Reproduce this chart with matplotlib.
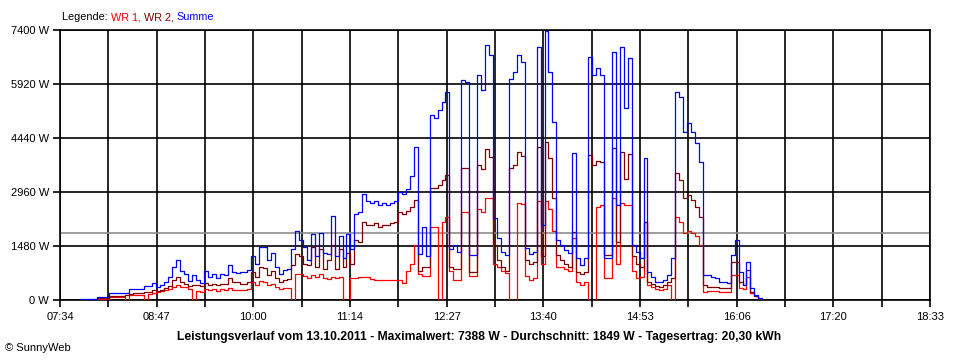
import matplotlib
matplotlib.use("Agg")
import matplotlib.pyplot as plt
import numpy as np

# ---- data (W), one sample every 3 minutes starting 07:50 ----
start_min = 7 * 60 + 50
step_min = 3

summe = [20, 20, 30, 30, 90, 90, 90, 180, 200, 200,
         200, 200, 290, 290, 290, 290, 380, 380, 470, 360,
         400, 500, 620, 900, 1100, 800, 720, 520, 680, 560,
         460, 800, 620, 700, 600, 720, 680, 950, 760, 740,
         780, 760, 820, 1200, 1000, 1450, 1450, 1100, 1300, 900,
         700, 820, 850, 1400, 1900, 1650, 1450, 1100, 1800, 1200,
         1850, 1300, 1250, 2300, 1200, 1750, 1150, 1800, 1400, 2350,
         2400, 2900, 2700, 2650, 2700, 2600, 2650, 2600, 2650, 2700,
         2950, 2900, 3050, 3400, 4200, 1250, 2000, 1200, 5070, 4980,
         5200, 5440, 5710, 1400, 1500, 1320, 6030, 5980, 1230, 1230,
         6170, 5750, 6990, 6710, 2240, 1690, 1320, 1230, 6070, 6260,
         6710, 6530, 1420, 1250, 1320, 6940, 2060, 7370, 6260, 4890,
         1640, 1500, 1370, 1280, 4020, 1140, 960, 1140, 6670, 6170,
         6350, 6170, 1140, 1140, 6800, 2600, 6940, 5250, 6620, 1500,
         1320, 1140, 3900, 780, 640, 500, 480, 550, 690, 1140,
         5710, 5570, 4610, 4840, 4610, 4290, 3790, 690, 690, 640,
         590, 500, 500, 460, 1230, 1640, 780, 410, 1050, 320,
         140, 50, 0]

wr2 = [0, 0, 0, 20, 50, 50, 60, 110, 120, 120,
       120, 130, 170, 180, 180, 180, 220, 230, 270, 260,
       280, 320, 380, 560, 640, 500, 440, 380, 420, 400,
       380, 470, 420, 440, 420, 450, 430, 590, 500, 480,
       450, 450, 500, 760, 620, 900, 880, 680, 800, 600,
       500, 540, 580, 950, 1250, 1200, 1000, 950, 1450, 900,
       1400, 850, 1100, 1500, 850, 1400, 900, 1300, 1000, 1650,
       1600, 2150, 2050, 2050, 2100, 2000, 2050, 2050, 2100, 2150,
       2400, 2350, 2450, 2550, 2750, 800, 900, 900, 3060, 3060,
       3150, 3300, 3430, 900, 850, 850, 3610, 3610, 780, 780,
       3700, 3600, 4150, 3930, 1500, 1100, 900, 800, 3610, 3700,
       4060, 3950, 1100, 1000, 1050, 4200, 1200, 4340, 3900, 2800,
       1230, 1100, 1000, 900, 1870, 780, 720, 780, 3970, 3700,
       3800, 3790, 1230, 1230, 4160, 1600, 4060, 3330, 4000, 1200,
       1000, 900, 2150, 500, 450, 380, 370, 400, 500, 590,
       3470, 3300, 2800, 2880, 2750, 2550, 2280, 410, 370, 370,
       350, 340, 330, 330, 1050, 1050, 500, 410, 820, 230,
       120, 40, 0]

wr1 = [0, 0, 0, 10, 40, 40, 40, 80, 90, 90,
       90, 0, 130, 130, 140, 140, 0, 160, 200, 210,
       250, 280, 300, 350, 410, 360, 360, 300, 0, 250,
       230, 300, 280, 300, 260, 300, 280, 330, 280, 270,
       280, 270, 300, 480, 420, 520, 500, 400, 450, 360,
       300, 320, 320, 0, 700, 720, 650, 600, 680, 620,
       700, 600, 580, 620, 600, 620, 0, 0, 600, 600,
       620, 640, 620, 580, 560, 560, 560, 540, 540, 550,
       560, 460, 800, 1000, 1500, 700, 650, 650, 2000, 2000,
       0, 2150, 2280, 800, 550, 550, 2420, 2420, 650, 650,
       2500, 2400, 2790, 2790, 1000, 900, 800, 730, 0, 0,
       2650, 2620, 650, 560, 600, 2700, 1000, 2700, 2500, 1900,
       900, 900, 850, 800, 1690, 500, 420, 500, 0, 0,
       2550, 2600, 590, 590, 2790, 1000, 2650, 2600, 2600, 800,
       600, 640, 2150, 410, 350, 300, 280, 300, 400, 0,
       2280, 2150, 1830, 1900, 1850, 1750, 1500, 230, 250, 250,
       240, 230, 230, 230, 690, 690, 320, 300, 640, 200,
       100, 40, 0]

average_w = 1849
x_labels = ["07:34", "08:47", "10:00", "11:14", "12:27", "13:40",
            "14:53", "16:06", "17:20", "18:33"]
y_ticks = [0, 1480, 2960, 4440, 5920, 7400]
title = ("Leistungsverlauf vom 13.10.2011 - Maximalwert: 7388 W - "
         "Durchschnitt: 1849 W - Tagesertrag: 20,30 kWh")

# ---- figure ----
plt.rcParams['font.family'] = ['Liberation Sans', 'DejaVu Sans']
fig = plt.figure(figsize=(9.6, 3.6), dpi=100)
ax = fig.add_axes([60 / 960, 1 - 300 / 360, 870 / 960, 270 / 360])

t = start_min + step_min * np.arange(len(summe))
x_min, x_max = 7 * 60 + 34, 18 * 60 + 33
ax.set_xlim(x_min, x_max)
ax.set_ylim(0, 7400)

vgrid = np.linspace(x_min, x_max, 19)
ax.set_xticks(vgrid)
ax.set_xticklabels([x_labels[k // 2] if k % 2 == 0 else "" for k in range(19)])
ax.set_yticks(y_ticks)
ax.set_yticklabels([f"{v} W" for v in y_ticks])
ax.grid(True, color="black", linewidth=1.2, zorder=1)
ax.set_axisbelow(True)
ax.tick_params(axis="both", length=5, width=1.2, color="black",
               labelsize=8, pad=3)
ax.tick_params(axis="x", pad=4)
for s in ax.spines.values():
    s.set_color("black")
    s.set_linewidth(1.2)

ax.axhline(average_w, color="#8c8c8c", linewidth=1.2, zorder=2)
ax.plot(t, wr1, drawstyle="steps-post", color="#ff0000", lw=0.9, zorder=3)
ax.plot(t, wr2, drawstyle="steps-post", color="#800000", lw=0.9, zorder=4)
ax.plot(t, summe, drawstyle="steps-post", color="#0000ff", lw=0.9, zorder=5)

# legend line of coloured text pieces
pieces = [("Legende: ", "black"), ("WR 1, ", "#ff0000"),
          ("WR 2, ", "#800000"), ("Summe", "#0000ff")]
fig.canvas.draw()
renderer = fig.canvas.get_renderer()
xpix = 62
for txt, col in pieces:
    tt = fig.text(xpix / 960, 1 - 17 / 360, txt, color=col, fontsize=7.8,
                  va="center", ha="left")
    bb = tt.get_window_extent(renderer=renderer)
    xpix += bb.width

fig.text(479 / 960, 1 - 337 / 360, title, fontsize=8.7, fontweight="bold",
         ha="center", va="center")
fig.text(5 / 960, 1 - 348 / 360, "\u00a9 SunnyWeb", fontsize=8,
         ha="left", va="center")

fig.savefig("out.png", dpi=100, facecolor="white")
